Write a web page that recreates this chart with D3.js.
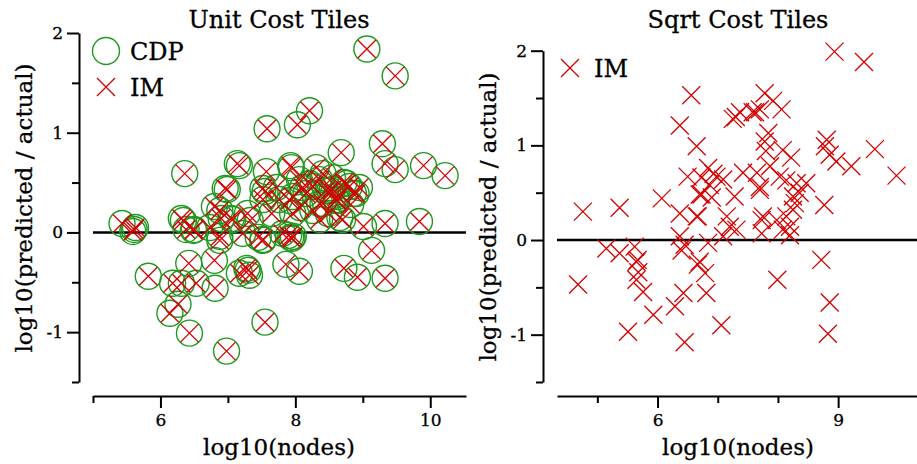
<!DOCTYPE html>
<html>
<head>
<meta charset="utf-8">
<script src="https://cdn.jsdelivr.net/npm/d3@7"></script>
<style>
  body { margin: 0; background: #fff; }
  svg { display: block; font-family: "DejaVu Serif", serif; }
  svg text { fill: #000; stroke: #000; stroke-width: 0.3; }
  .axis path, .axis line { stroke: #000; stroke-width: 2; }
  .axis text { font-size: 17px; font-family: "DejaVu Serif", serif; }
</style>
</head>
<body>
<svg id="chart" width="917" height="464"></svg>
<script>
// Unit cost tiles: CDP and IM land on the same points
const unitNodes = [
  9.06, 9.48, 8.21, 8.03, 7.58, 9.29, 8.68, 9.33, 9.48, 9.90, 10.22, 6.36, 7.14, 7.17, 7.57,
  7.93, 6.96, 6.99, 7.52, 7.55, 9.84, 9.33, 9.01, 9.13, 8.72, 8.92, 9.33, 8.06, 7.86, 7.90,
  7.93, 7.95, 7.97, 7.55, 6.98, 6.43, 6.14, 6.26, 6.18, 6.31, 6.53, 5.82, 6.42, 6.81, 6.80,
  7.17, 7.30, 7.32, 7.28, 7.52, 7.45, 5.43, 5.61, 5.63, 5.59, 6.31, 6.38, 6.50, 6.80, 6.90,
  6.88, 7.07, 7.29, 7.65, 7.76, 7.52, 7.94, 8.31, 8.41, 8.21, 8.11, 8.51, 8.76, 8.86, 8.61,
  8.41, 8.26, 8.07, 7.92, 7.72, 8.45, 8.66, 8.62, 8.36, 8.26, 8.55, 8.80, 8.90, 8.61, 8.36,
  8.16, 8.06, 8.49, 8.70, 8.36, 7.96, 7.96, 8.82, 8.72, 6.88, 7.05, 6.34, 6.49, 6.73, 6.88,
  7.22, 7.52, 7.33, 8.55, 8.95, 7.81
];
const unitCdp = [
  1.84, 1.57, 1.22, 1.08, 1.04, 0.89, 0.80, 0.69, 0.63, 0.67, 0.57, 0.59, 0.69, 0.67, 0.61,
  0.67, 0.44, 0.43, 0.44, 0.41, 0.11, 0.09, 0.06, -0.18, -0.36, -0.45, -0.46, -0.39, -0.32, -0.03,
  -0.05, -0.06, -0.04, -0.90, -1.19, -1.01, -0.81, -0.72, -0.51, -0.51, -0.51, -0.44, -0.31, -0.56, -0.28,
  -0.41, -0.38, -0.43, -0.36, -0.07, -0.05, 0.09, 0.03, 0.05, 0.01, 0.14, 0.03, 0.03, 0.26, 0.14,
  -0.04, 0.13, 0.19, 0.19, 0.33, 0.33, 0.65, 0.65, 0.59, 0.49, 0.45, 0.42, 0.49, 0.39, 0.32,
  0.29, 0.22, 0.25, 0.32, 0.45, 0.42, 0.15, 0.36, 0.53, 0.46, 0.43, 0.46, 0.39, 0.33, 0.29,
  0.39, 0.53, 0.19, 0.13, 0.13, 0.19, 0.36, 0.28, 0.50, 0.22, 0.14, 0.12, 0.02, 0.05, -0.08,
  -0.01, -0.08, 0.12, 0.55, 0.45, -0.01
];
const unitIm = unitCdp.slice();

// Sqrt cost tiles: IM only
const sqrtNodes = [
  8.94, 9.43, 9.61, 9.97, 9.22, 8.97, 8.81, 8.78, 8.86, 8.77, 8.72, 8.86, 8.83, 7.99, 7.06,
  6.45, 6.29, 6.43, 6.81, 5.51, 4.68, 4.76, 5.37, 6.07, 6.37, 6.56, 6.65, 5.15, 5.37, 5.62,
  5.65, 5.68, 5.65, 5.76, 5.93, 5.67, 6.67, 6.79, 6.40, 6.37, 6.45, 6.37, 6.65, 6.50, 6.84,
  6.73, 6.87, 6.98, 6.70, 7.09, 7.28, 7.42, 7.70, 7.37, 7.58, 7.70, 7.78, 7.92, 8.06, 7.62,
  7.84, 7.78, 7.80, 8.08, 8.22, 7.65, 7.87, 8.03, 8.14, 8.31, 8.47, 8.36, 8.25, 8.28, 7.70,
  7.15, 7.20, 7.31, 7.09, 6.84, 7.73, 7.73, 6.70, 7.75, 7.98, 8.14, 8.20, 8.08, 8.20, 8.25,
  6.67, 6.73, 7.30, 7.25, 6.93, 6.90
];
const sqrtIm = [
  1.99, 1.88, 0.96, 0.68, 0.78, 0.83, 1.06, 0.99, 0.90, 0.37, -0.21, -0.66, -0.99, -0.42, -0.90,
  -1.08, -0.70, -0.56, -0.56, -0.97, -0.47, 0.30, 0.34, 0.44, 1.21, 1.53, 0.99, -0.09, -0.14, -0.07,
  -0.23, -0.34, -0.42, -0.55, -0.79, -0.21, -0.26, -0.35, -0.11, 0.28, -0.05, 0.04, 0.25, 0.67, 0.76,
  0.66, 0.58, 0.67, 0.48, 0.64, 0.46, 0.71, 0.56, 1.35, 1.35, 1.38, 1.55, 1.47, 1.38, 1.35,
  1.13, 1.04, 0.94, 0.95, 0.87, 0.71, 0.78, 0.67, 0.63, 0.60, 0.60, 0.50, 0.46, 0.39, 0.53,
  0.25, 0.14, 0.11, 0.04, -0.03, 0.21, 0.07, -0.23, 0.25, 0.21, 0.25, 0.14, 0.11, 0.05, 0.32,
  0.25, 0.48, 1.30, 1.28, 0.70, 0.45
];

const yMajor = [-1, 0, 1, 2];
const yMinor = [-1.5, -0.5, 0.5, 1.5];

const GREEN = '#1e9a1e';
const RED   = '#d40000';
const CROSS = 9;
const RING  = 13;

const svg = d3.select('#chart');

const crossPath = (cx, cy) =>
  `M${cx - CROSS},${cy - CROSS}L${cx + CROSS},${cy + CROSS}M${cx - CROSS},${cy + CROSS}L${cx + CROSS},${cy - CROSS}`;

function drawPanel(p) {
  const g = svg.append('g');

  // x axis, detached below the plot
  g.append('g').attr('class', 'axis')
    .attr('transform', `translate(0,${p.axisY})`)
    .call(d3.axisBottom(p.x).tickValues(p.xMajor).tickFormat(d3.format('d'))
      .tickSize(12).tickSizeOuter(0).tickPadding(6));
  g.append('g').attr('class', 'axis')
    .attr('transform', `translate(0,${p.axisY})`)
    .call(d3.axisBottom(p.x).tickValues(p.xMinor).tickFormat('').tickSize(7).tickSizeOuter(0))
    .call(a => a.select('.domain').remove());

  // y axis, detached to the left
  const yFmt = d => d < 0 ? '-' + Math.abs(d) : String(d);
  g.append('g').attr('class', 'axis')
    .attr('transform', `translate(${p.axisX},0)`)
    .call(d3.axisLeft(p.y).tickValues(yMajor).tickFormat(yFmt)
      .tickSize(12).tickSizeOuter(0).tickPadding(4));
  g.append('g').attr('class', 'axis')
    .attr('transform', `translate(${p.axisX},0)`)
    .call(d3.axisLeft(p.y).tickValues(yMinor).tickFormat('').tickSize(7).tickSizeOuter(0))
    .call(a => a.select('.domain').remove());

  // reference line at zero
  g.append('line')
    .attr('x1', p.x.range()[0]).attr('x2', p.x.range()[1])
    .attr('y1', p.y(0)).attr('y2', p.y(0))
    .attr('stroke', '#000').attr('stroke-width', 2.5);

  if (p.cdp) {
    g.append('g').selectAll('circle')
      .data(p.nodes)
      .enter().append('circle')
        .attr('cx', d => p.x(d))
        .attr('cy', (d, i) => p.y(p.cdp[i]))
        .attr('r', RING)
        .attr('fill', 'none').attr('stroke', GREEN).attr('stroke-width', 1.4);
  }

  g.append('g').selectAll('path')
    .data(p.nodes)
    .enter().append('path')
      .attr('d', (d, i) => crossPath(p.x(d), p.y(p.im[i])))
      .attr('fill', 'none').attr('stroke', RED).attr('stroke-width', 1.3);

  // titles and labels
  g.append('text')
    .attr('x', p.titleX).attr('y', 28)
    .attr('text-anchor', 'middle').attr('font-size', 24)
    .text(p.title);

  g.append('text')
    .attr('x', p.titleX).attr('y', 455)
    .attr('text-anchor', 'middle').attr('font-size', 23)
    .text('log10(nodes)');

  g.append('text')
    .attr('transform', `translate(${p.yLabelX},${p.yLabelY}) rotate(-90)`)
    .attr('text-anchor', 'middle').attr('font-size', 23)
    .text('log10(predicted / actual)');

  // legend
  let ly = p.legendY;
  if (p.cdp) {
    g.append('circle')
      .attr('cx', p.legendX).attr('cy', ly).attr('r', RING + 0.5)
      .attr('fill', 'none').attr('stroke', GREEN).attr('stroke-width', 1.4);
    g.append('text')
      .attr('x', p.legendX + 24).attr('y', ly + 9)
      .attr('font-size', 24).text('CDP');
    ly += 36;
  }
  g.append('path')
    .attr('d', crossPath(p.legendX, ly))
    .attr('fill', 'none').attr('stroke', RED).attr('stroke-width', 1.3);
  g.append('text')
    .attr('x', p.legendX + 24).attr('y', ly + 9)
    .attr('font-size', 24).text('IM');
}

drawPanel({
  title: 'Unit Cost Tiles',
  x: d3.scaleLinear().domain([5, 10.53]).range([93, 466]),
  y: d3.scaleLinear().domain([-1.5, 2]).range([382, 33]),
  xMajor: [6, 8, 10], xMinor: [5, 7, 9],
  axisX: 79, axisY: 396,
  titleX: 279, yLabelX: 32, yLabelY: 208,
  legendX: 106, legendY: 51,
  nodes: unitNodes, cdp: unitCdp, im: unitIm
});

drawPanel({
  title: 'Sqrt Cost Tiles',
  x: d3.scaleLinear().domain([4.33, 10.31]).range([557, 917]),
  y: d3.scaleLinear().domain([-1.5, 2]).range([382, 50.7]),
  xMajor: [6, 9], xMinor: [5, 7, 8],
  axisX: 543, axisY: 396,
  titleX: 738, yLabelX: 496, yLabelY: 217,
  legendX: 570, legendY: 68,
  nodes: sqrtNodes, cdp: null, im: sqrtIm
});
</script>
</body>
</html>
